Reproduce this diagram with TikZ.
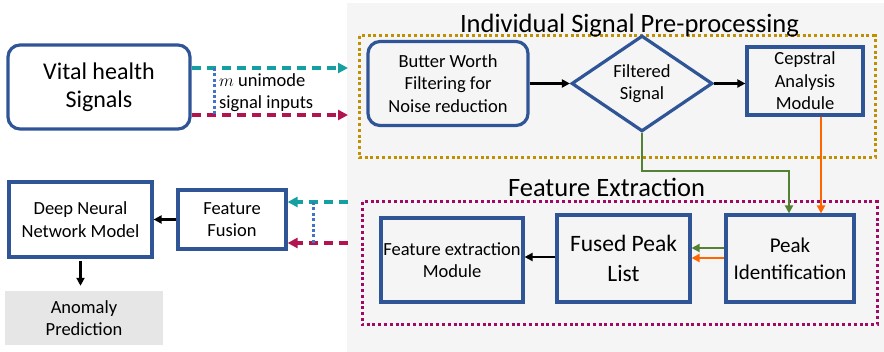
\documentclass[tikz,border=0pt]{standalone}
\usepackage{fontspec}
\setmainfont{Carlito}
\usetikzlibrary{shapes.geometric,arrows.meta}
\definecolor{panel}{RGB}{245,245,245}
\definecolor{nodeblue}{RGB}{47,85,151}
\definecolor{dotblue}{RGB}{68,114,196}
\definecolor{tealc}{RGB}{20,160,160}
\definecolor{crim}{RGB}{178,20,80}
\definecolor{gold}{RGB}{191,144,0}
\definecolor{magdot}{RGB}{160,10,100}
\definecolor{grn}{RGB}{84,130,53}
\definecolor{orng}{RGB}{255,102,0}
\definecolor{anom}{RGB}{231,230,230}
\tikzset{
  blk/.style={draw=nodeblue, line width=3.2pt, align=center, inner sep=0pt},
  rblk/.style={blk, rounded corners=12pt},
  ftxt/.style={font=\fontsize{18.5}{22.5}\selectfont},
  tdash/.style={draw=tealc, line width=3.2pt, dash pattern=on 9pt off 6pt, -{Triangle[length=10pt,width=10pt]}},
  cdash/.style={draw=crim, line width=3.2pt, dash pattern=on 9pt off 6pt, -{Triangle[length=10pt,width=10pt]}},
  bdot/.style={draw=dotblue, line width=3pt, dash pattern=on 3pt off 2.4pt},
  frame/.style={line width=3pt, dash pattern=on 3pt off 2.8pt},
  barrow/.style={draw=black, line width=2.5pt, -{Triangle[length=8pt,width=8pt]}},
  garrow/.style={draw=grn, line width=2.7pt, -{Triangle[length=8pt,width=8pt]}},
  oarrow/.style={draw=orng, line width=2.7pt, -{Triangle[length=8pt,width=8pt]}},
  ttl/.style={font=\fontsize{26.5}{30}\selectfont, anchor=base, inner sep=0pt}
}
\begin{document}
\begin{tikzpicture}[x=1pt,y=-1pt]
\useasboundingbox (0,0) rectangle (884,352);
\fill[panel] (347,3) rectangle (884,352);

% group frames
\draw[frame, draw=gold] (359,36) rectangle (875,158);
\draw[frame, draw=magdot] (362,202) rectangle (877,325);
\node[ttl] (t1) at (629.5,33) {Individual Signal Pre-processing};
\node[ttl] (t2) at (606.5,197) {Feature Extraction};

% nodes
\node[rblk, minimum width=182, minimum height=84, font=\fontsize{24}{28}\selectfont] (V) at (99,87) {Vital health\\Signals};
\node[rblk, ftxt, minimum width=160, minimum height=84] (B) at (448,83.5) {Butter Worth\\Filtering for\\Noise reduction};
\node[blk, ftxt, diamond, minimum width=141, minimum height=82] (D) at (642,83.5) {Filtered\\Signal};
\node[blk, ftxt, minimum width=116, minimum height=68] (C) at (805,81) {Cepstral\\Analysis\\Module};
\node[blk, ftxt, minimum width=142, minimum height=84] (FEM) at (452,260) {Feature extraction\\Module};
\node[blk, minimum width=133, minimum height=87, font=\fontsize{23.5}{30}\selectfont] (Fu) at (623.5,258.5) {Fused Peak\\List};
\node[blk, minimum width=128, minimum height=87, font=\fontsize{21}{27}\selectfont] (P) at (790,258.5) {Peak\\Identification};
\node[blk, ftxt, minimum width=108, minimum height=59] (FF) at (232,219.5) {Feature\\Fusion};
\node[blk, ftxt, minimum width=143, minimum height=75] (DNN) at (80.5,219.5) {Deep Neural\\Network Model};
\node[fill=anom, ftxt, align=center, inner sep=0pt, minimum width=158, minimum height=54] (A) at (84,318) {Anomaly\\Prediction};
\node[ftxt, align=left, anchor=west, inner sep=0pt] (lab) at (219,92.5) {$m$ unimode\\signal inputs};

% input arrows
\coordinate (ta) at (348,68);
\coordinate (ca) at (348,115);
\draw[tdash] (V.east |- ta) -- (ta);
\draw[cdash] (V.east |- ca) -- (ca);
\coordinate (da) at (214,68);
\coordinate (db) at (214,115);
\draw[bdot] (da) -- (db);

% pre-processing flow
\draw[barrow] (B.east) -- (D.west);
\draw[barrow] (D.east) -- (D.east -| C.west);
\coordinate (gc) at (789,171);
\draw[garrow] (D.south) |- (gc) -- (gc |- P.north);
\coordinate (oc) at (821,0);
\draw[oarrow] (C.south -| oc) -- (oc |- P.north);

% feature extraction flow
\draw[garrow] ([yshift=10.5pt]P.west) -- ([yshift=10.5pt]P.west -| Fu.east);
\draw[oarrow] ([yshift=0.5pt]P.west) -- ([yshift=0.5pt]P.west -| Fu.east);
\draw[barrow] ([yshift=1.5pt]Fu.west) -- ([yshift=1.5pt]Fu.west -| FEM.east);

% outputs to fusion
\coordinate (tb) at (348,202);
\coordinate (cb) at (348,243);
\draw[tdash] (tb) -- (tb -| FF.east);
\draw[cdash] (cb) -- (cb -| FF.east);
\coordinate (dc) at (313,202);
\coordinate (dd) at (313,245);
\draw[bdot] (dc) -- (dd);

\draw[barrow] (FF.west) -- (FF.west -| DNN.east);
\draw[barrow, shorten <=2pt, shorten >=5pt] (DNN.south) -- (DNN.south |- A.north);
\end{tikzpicture}
\end{document}
